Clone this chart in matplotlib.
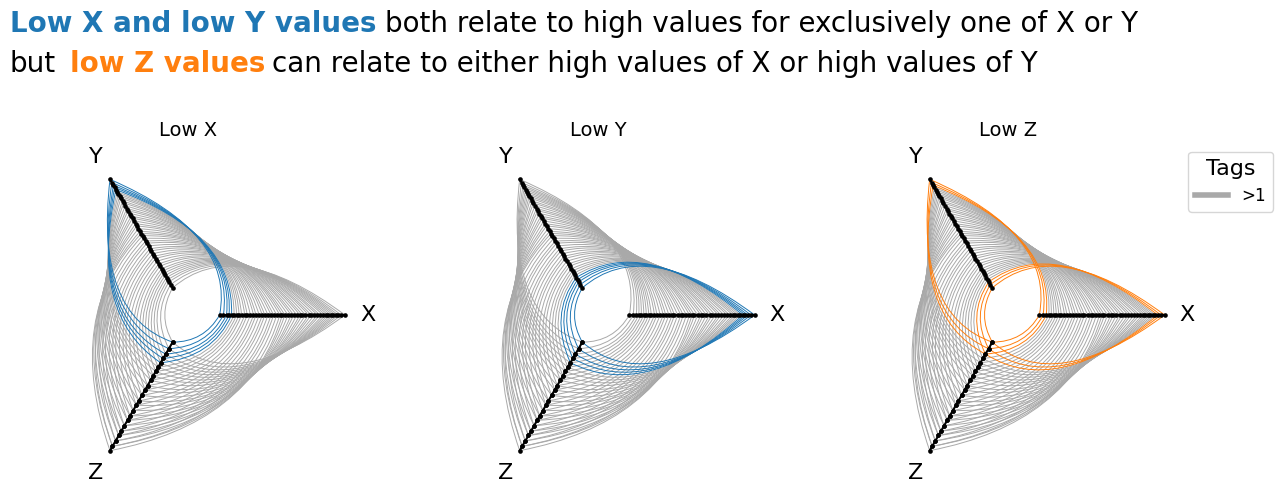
import numpy as np
import matplotlib
matplotlib.use("Agg")
import matplotlib.pyplot as plt
from matplotlib.lines import Line2D
from matplotlib.patches import PathPatch
from matplotlib.path import Path

# values, scaled 0-1, one entry per data point
x_vals = [0.00, 0.03, 0.055, 0.075, 0.095, 0.115, 0.135, 0.155, 0.175, 0.20, 0.22,
          0.245, 0.27, 0.29, 0.315, 0.34, 0.36, 0.385, 0.41, 0.43, 0.455, 0.48,
          0.50,
          0.52, 0.545, 0.57, 0.59, 0.615, 0.64, 0.66, 0.685, 0.71, 0.73, 0.755,
          0.78, 0.80, 0.825, 0.845, 0.865, 0.885, 0.905, 0.925, 0.945, 0.97, 1.00]
y_vals = [1.00, 0.97, 0.945, 0.925, 0.905, 0.885, 0.865, 0.845, 0.825, 0.80, 0.78,
          0.755, 0.73, 0.71, 0.685, 0.66, 0.64, 0.615, 0.59, 0.57, 0.545, 0.52,
          0.50,
          0.48, 0.455, 0.43, 0.41, 0.385, 0.36, 0.34, 0.315, 0.29, 0.27, 0.245,
          0.22, 0.20, 0.175, 0.155, 0.135, 0.115, 0.095, 0.075, 0.055, 0.03, 0.00]
z_vals = [0.00, 0.06, 0.11, 0.15, 0.19, 0.23, 0.27, 0.31, 0.35, 0.40, 0.44,
          0.49, 0.54, 0.58, 0.63, 0.68, 0.72, 0.77, 0.82, 0.86, 0.91, 0.96,
          1.00,
          0.96, 0.91, 0.86, 0.82, 0.77, 0.72, 0.68, 0.63, 0.58, 0.54, 0.49,
          0.44, 0.40, 0.35, 0.31, 0.27, 0.23, 0.19, 0.15, 0.11, 0.06, 0.00]

axis_names = ["X", "Y", "Z"]
axis_angles = [0, 120, 240]
label_pos = [(5.72, 0), (-2.95, 5.03), (-2.95, -5.03)]
panel_titles = ["Low X", "Low Y", "Low Z"]
panel_colors = ["C0", "C0", "C1"]
panel_limits = [0.1, 0.1, 0.12]
legend_labels = [">1"]

INNER = 1
OUTER = 5
GRAY = "darkgray"
W, H = 1282, 496
UNIT = 31.33  # pixels per radial unit
CY = 315


def polar(rho, angle):
    return rho * np.cos(np.radians(angle)), rho * np.sin(np.radians(angle))


def to_rho(v):
    return INNER + (OUTER - INNER) * v


def draw_edge(ax, rho1, ang1, rho2, ang2, color, z):
    # quadratic bezier, control point at the mid angle and mean radius
    mid = (ang1 + ang2) / 2
    if abs(ang1 - ang2) > 180:
        mid += 180
    verts = [polar(rho1, ang1), polar((rho1 + rho2) / 2, mid), polar(rho2, ang2)]
    path = Path(verts, [Path.MOVETO, Path.CURVE3, Path.CURVE3])
    ax.add_patch(PathPatch(path, fc="none", ec=color, lw=0.7, zorder=z))


def draw_hive(ax, values, colored, color):
    for i in range(len(values[0])):
        hot = colored[i]
        c = color if hot else GRAY
        z = 3 if hot else 2
        for a, b in [(0, 1), (1, 2), (2, 0)]:
            draw_edge(ax, to_rho(values[a][i]), axis_angles[a],
                      to_rho(values[b][i]), axis_angles[b], c, z)
    for vals, ang, name, pos in zip(values, axis_angles, axis_names, label_pos):
        px, py = polar(np.array([INNER, OUTER]), ang)
        ax.plot(px, py, color="black", lw=1.5, zorder=4)
        px, py = polar(to_rho(np.array(vals)), ang)
        ax.scatter(px, py, s=11, color="black", lw=0, zorder=5)
        ax.text(pos[0], pos[1], name, fontsize=16, ha="center", va="center")


fig = plt.figure(figsize=(W / 100, H / 100), dpi=100)

centers = [188.3, 598, 1008]
values = [x_vals, y_vals, z_vals]
top, bottom = 5.44, -5.9
for k, cx in enumerate(centers):
    ax = fig.add_axes([(cx - 6 * UNIT) / W, (H - CY + bottom * UNIT) / H,
                       12 * UNIT / W, (top - bottom) * UNIT / H])
    vals = np.array(values[k])
    draw_hive(ax, values, vals < panel_limits[k], panel_colors[k])
    ax.set_xlim(-6, 6)
    ax.set_ylim(bottom, top)
    ax.set_title(panel_titles[k], fontsize=14)
    ax.axis("off")

# headline, pieced together so part of it can be bold and coloured
fs = 20
y1 = 1 - 32 / H
y2 = 1 - 72 / H
fig.text(10 / W, y1, "Low X and low Y values", fontsize=fs, weight="bold", color="C0")
fig.text(385 / W, y1, "both relate to high values for exclusively one of X or Y", fontsize=fs)
fig.text(10 / W, y2, "but", fontsize=fs)
fig.text(70 / W, y2, "low Z values", fontsize=fs, weight="bold", color="C1")
fig.text(272 / W, y2, "can relate to either high values of X or high values of Y", fontsize=fs)

handles = [Line2D([], [], color=GRAY, lw=4)]
fig.legend(handles, legend_labels, title="Tags", title_fontsize=16, fontsize=12,
           loc="upper right", bbox_to_anchor=(1273 / W, 1 - 152 / H),
           borderaxespad=0, handlelength=2)

fig.savefig("out.png", dpi=100)
